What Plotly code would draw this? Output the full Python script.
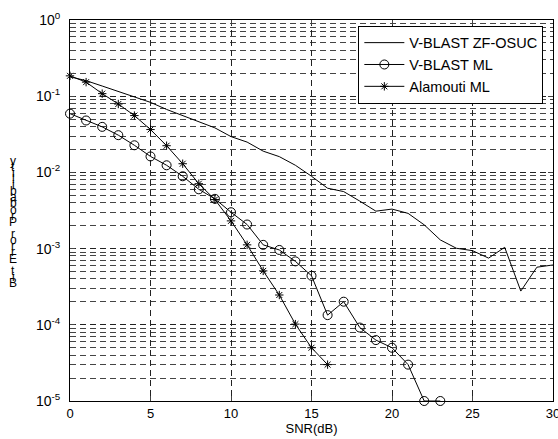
import plotly.graph_objects as go

# SNR axis (dB)
snr_zf = list(range(0, 31))
snr_vml = list(range(0, 24))
snr_ala = list(range(0, 17))

# Bit error probability per scheme
ber_zf_osuc = [0.18, 0.160, 0.136, 0.116, 0.098, 0.083, 0.067, 0.0557, 0.0469, 0.0384,
               0.0295, 0.0250, 0.0190, 0.0161, 0.0124, 0.0089, 0.0062, 0.0056, 0.0042, 0.0031,
               0.0033, 0.0029, 0.00205, 0.0013, 0.00101, 0.00094, 0.00075, 0.00104, 0.000277,
               0.00057, 0.00061]
ber_vblast_ml = [0.059, 0.048, 0.0396, 0.0308, 0.0227, 0.0162, 0.0124, 0.0089, 0.0060, 0.0045,
                 0.0030, 0.00207, 0.00112, 0.00096, 0.00068, 0.00044, 0.000134, 0.000201,
                 9.2e-5, 6.3e-5, 5.0e-5, 3.0e-5, 1e-5, 1e-5]
ber_alamouti_ml = [0.185, 0.153, 0.108, 0.079, 0.0557, 0.0365, 0.0224, 0.0130, 0.0071, 0.0044,
                   0.00231, 0.00112, 0.00051, 0.000246, 0.000102, 5.0e-5, 3.0e-5]

x_ticks = [0, 5, 10, 15, 20, 25, 30]
y_ticks = [1e-5, 1e-4, 1e-3, 1e-2, 1e-1, 1]
y_ticktext = ["10<sup>-5</sup>", "10<sup>-4</sup>", "10<sup>-3</sup>",
              "10<sup>-2</sup>", "10<sup>-1</sup>", "10<sup>0</sup>"]

font_family = "Liberation Sans, Arial, Helvetica, sans-serif"
grid_dash = "6px,4px"

fig = go.Figure()
fig.add_trace(go.Scatter(x=snr_zf, y=ber_zf_osuc, mode="lines", name="V-BLAST ZF-OSUC",
                         line=dict(color="black", width=1), cliponaxis=False))
fig.add_trace(go.Scatter(x=snr_vml, y=ber_vblast_ml, mode="lines+markers", name="V-BLAST ML",
                         line=dict(color="black", width=1),
                         marker=dict(symbol="circle-open", size=9, color="black",
                                     line=dict(width=1)),
                         cliponaxis=False))
fig.add_trace(go.Scatter(x=snr_ala, y=ber_alamouti_ml, mode="lines+markers", name="Alamouti ML",
                         line=dict(color="black", width=1),
                         marker=dict(symbol="asterisk-open", size=7, color="black",
                                     line=dict(width=1, color="black")),
                         cliponaxis=False))

fig.update_xaxes(range=[0, 30], tickvals=x_ticks, ticks="inside", ticklen=5,
                 showline=True, linecolor="black", linewidth=1, mirror="ticks",
                 showgrid=True, gridcolor="#222", griddash=grid_dash, gridwidth=1,
                 zeroline=False, ticklabeloverflow="allow", automargin=False,
                 title=dict(text="SNR(dB)", font=dict(size=13, color="black"), standoff=2),
                 tickfont=dict(size=13, color="black"))
fig.update_yaxes(type="log", range=[-5, 0], tickvals=y_ticks, ticktext=y_ticktext,
                 ticks="inside", ticklen=5,
                 showline=True, linecolor="black", linewidth=1, mirror="ticks",
                 showgrid=True, gridcolor="#222", griddash=grid_dash, gridwidth=1,
                 minor=dict(dtick="D1", showgrid=True, gridcolor="#444", griddash=grid_dash,
                            gridwidth=1, ticks="inside", ticklen=3),
                 zeroline=False, ticklabeloverflow="allow", automargin=False,
                 ticklabelstandoff=6,
                 tickfont=dict(size=14, color="black"))

# Vertical stacked y-axis label
label = "Bit Error Probability"
step = 6.1 / 380.0
y0 = (400.7 - 283) / 380.0
for i, ch in enumerate(label):
    if ch == " ":
        continue
    fig.add_annotation(text=ch, xref="paper", yref="paper", x=-0.117, y=y0 + i * step,
                       xanchor="center", yanchor="middle", showarrow=False,
                       font=dict(size=12, color="black", family=font_family))

fig.update_layout(
    width=558, height=439,
    margin=dict(l=70, r=5, t=20, b=38),
    paper_bgcolor="white", plot_bgcolor="white",
    font=dict(family=font_family, color="black", size=13),
    showlegend=True,
    legend=dict(x=0.98, y=0.985, xanchor="right", yanchor="top",
                bgcolor="white", bordercolor="black", borderwidth=1,
                font=dict(size=14.5, color="black"), tracegroupgap=0,
                itemwidth=40),
)

fig.write_html("out.html")
